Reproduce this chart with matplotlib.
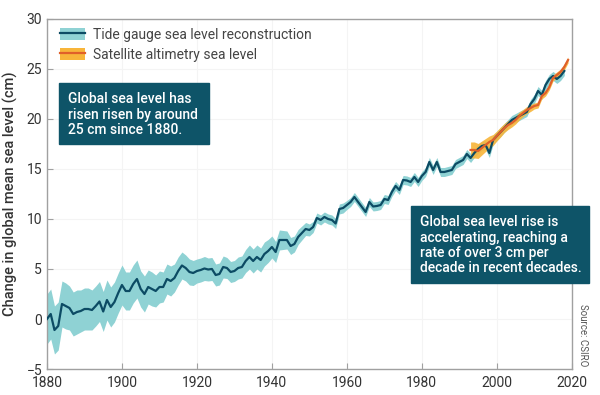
import matplotlib.pyplot as plt
from matplotlib.patches import Patch, Rectangle
from matplotlib.lines import Line2D

plt.rcParams['font.family'] = ['Roboto', 'DejaVu Sans']

# tide gauge reconstruction, one value per year 1880-2018 (cm)
tide_years = list(range(1880, 2019))
tide_level = [
    0.0, 0.5, -1.1, -0.7, 1.5, 1.3, 1.1, 0.5, 0.7, 0.8,
    1.0, 1.0, 0.9, 1.3, 1.75, 0.75, 1.9, 1.2, 1.7, 2.6,
    3.4, 2.8, 2.8, 3.5, 4.0, 3.0, 2.5, 3.2, 3.0, 2.8,
    3.2, 3.2, 4.0, 3.8, 4.1, 4.8, 5.35, 5.1, 4.7, 4.6,
    4.8, 4.9, 5.05, 4.95, 5.0, 4.4, 4.5, 5.2, 5.1, 4.7,
    4.8, 5.1, 5.2, 5.8, 6.2, 5.8, 6.2, 5.9, 6.5, 6.8,
    7.2, 6.7, 7.9, 7.9, 7.9, 7.3, 7.5, 8.2, 8.6, 9.0,
    8.9, 9.2, 10.1, 9.9, 10.2, 10.0, 9.9, 9.55, 11.0, 11.1,
    11.4, 11.7, 12.2, 11.7, 11.2, 10.7, 11.7, 11.25, 11.3, 11.4,
    12.0, 11.9, 12.7, 13.3, 12.9, 13.9, 13.85, 13.7, 14.2, 13.7,
    14.3, 14.7, 15.7, 14.9, 15.7, 14.7, 14.7, 14.8, 14.9, 15.5,
    15.7, 15.9, 16.5, 16.1, 16.6, 17.0, 17.3, 17.4, 16.6, 17.9,
    18.3, 18.7, 19.1, 19.5, 19.9, 20.1, 20.3, 20.5, 20.7, 21.5,
    22.0, 22.8, 22.4, 23.4, 24.0, 24.3, 24.0, 24.3, 24.8,
]
tide_err = [
    2.5, 2.5, 2.4, 2.4, 2.3, 2.3, 2.2, 2.2, 2.2, 2.1,
    2.1, 2.1, 2.0, 2.0, 2.0, 2.0, 2.0, 2.0, 2.0, 2.0,
    2.0, 1.9, 1.9, 1.9, 1.9, 1.8, 1.8, 1.7, 1.7, 1.6,
    1.6, 1.5, 1.5, 1.5, 1.4, 1.4, 1.35, 1.3, 1.3, 1.25,
    1.2, 1.2, 1.2, 1.15, 1.15, 1.1, 1.1, 1.1, 1.05, 1.05,
    1.05, 1.1, 1.1, 1.15, 1.2, 1.2, 1.2, 1.2, 1.2, 1.15,
    1.1, 1.05, 1.0, 0.95, 0.9, 0.85, 0.8, 0.75, 0.7, 0.65,
    0.6, 0.55, 0.5, 0.5, 0.5, 0.5, 0.5, 0.5, 0.5, 0.5,
    0.45, 0.45, 0.45, 0.45, 0.45, 0.45, 0.45, 0.45, 0.45, 0.45,
    0.45, 0.45, 0.45, 0.45, 0.45, 0.45, 0.45, 0.45, 0.45, 0.45,
    0.45, 0.45, 0.45, 0.45, 0.45, 0.45, 0.45, 0.45, 0.45, 0.45,
    0.45, 0.45, 0.45, 0.45, 0.45, 0.45, 0.45, 0.45, 0.45, 0.45,
    0.45, 0.45, 0.45, 0.45, 0.45, 0.45, 0.45, 0.45, 0.45, 0.45,
    0.45, 0.45, 0.45, 0.45, 0.45, 0.45, 0.45, 0.45, 0.45,
]

# satellite altimetry 1993-2019 (cm)
sat_years = list(range(1993, 2020))
sat_level = [
    16.9, 16.9, 16.8, 17.1, 17.4, 17.7, 17.9, 18.3, 18.7, 19.1,
    19.4, 19.6, 19.9, 20.3, 20.6, 20.9, 21.1, 21.3, 21.4, 22.3,
    22.6, 23.2, 24.1, 24.4, 24.7, 25.2, 25.9,
]
sat_err = [
    0.8, 0.8, 0.75, 0.7, 0.65, 0.6, 0.55, 0.5, 0.5, 0.45,
    0.45, 0.4, 0.4, 0.4, 0.35, 0.35, 0.35, 0.3, 0.3, 0.3,
    0.3, 0.3, 0.3, 0.3, 0.3, 0.3, 0.3,
]

x_ticks = [1880, 1900, 1920, 1940, 1960, 1980, 2000, 2020]
y_ticks = [-5, 0, 5, 10, 15, 20, 25, 30]

band_col = '#8fd2d4'
line_col = '#0c4b64'
sat_band = '#f8b53a'
sat_line = '#e0602a'
box_col = '#0e5468'
spine_col = '#a0a0a0'

fig = plt.figure(figsize=(6, 3.95), dpi=100)
ax = fig.add_axes([0.0783, 0.0658, 0.8747, 0.8862])

lo = [v - e for v, e in zip(tide_level, tide_err)]
hi = [v + e for v, e in zip(tide_level, tide_err)]
ax.fill_between(tide_years, lo, hi, color=band_col, lw=0, zorder=2)
ax.plot(tide_years, tide_level, color=line_col, lw=1.6, zorder=4)

slo = [v - e for v, e in zip(sat_level, sat_err)]
shi = [v + e for v, e in zip(sat_level, sat_err)]
ax.fill_between(sat_years, slo, shi, color=sat_band, lw=0, alpha=0.9, zorder=3)
ax.plot(sat_years, sat_level, color=sat_line, lw=1.6, zorder=5)

ax.set_xlim(1880, 2020)
ax.set_ylim(-5, 30)
ax.set_xticks(x_ticks)
ax.set_yticks(y_ticks)
ax.tick_params(direction='in', length=4, color=spine_col, labelsize=10,
               labelcolor='#333333')
ax.tick_params(axis='x', pad=5)
for s in ax.spines.values():
    s.set_color(spine_col)
    s.set_linewidth(1.0)
ax.grid(color='#f4f4f4', lw=0.8, zorder=0)
ax.set_axisbelow(True)
ax.set_ylabel('Change in global mean sea level (cm)', fontsize=10.5,
              fontweight='medium', color='#333333', labelpad=6)

handles = [
    (Patch(color=band_col, lw=0), Line2D([], [], color=line_col, lw=1.6)),
    (Patch(color=sat_band, lw=0), Line2D([], [], color=sat_line, lw=1.6)),
]
ax.legend(handles, ['Tide gauge sea level reconstruction', 'Satellite altimetry sea level'],
          loc='upper left', bbox_to_anchor=(0.024, 0.975), frameon=False,
          borderpad=0, borderaxespad=0, handlelength=1.8, handleheight=1.0,
          handletextpad=0.6, labelspacing=0.45, fontsize=10, labelcolor='#444444')

fig.patches.append(Rectangle((0.0983, 0.6354), 0.25, 0.1544, transform=fig.transFigure,
                             color=box_col, zorder=6))
fig.text(0.113, 0.767, 'Global sea level has\nrisen risen by around\n25 cm since 1880.',
         color='white', fontsize=10, fontweight='medium', va='top', ha='left',
         linespacing=1.15, zorder=7)

fig.patches.append(Rectangle((0.685, 0.2835), 0.2967, 0.195, transform=fig.transFigure,
                             color=box_col, zorder=6))
fig.text(0.70, 0.455, 'Global sea level rise is\naccelerating, reaching a\nrate of over 3 cm per\ndecade in recent decades.',
         color='white', fontsize=10, fontweight='medium', va='top', ha='left',
         linespacing=1.12, zorder=7)

fig.text(0.972, 0.152, 'Source: CSIRO', rotation=270, fontsize=7, color='#555555',
         ha='center', va='center')

fig.savefig('out.png', dpi=100)
